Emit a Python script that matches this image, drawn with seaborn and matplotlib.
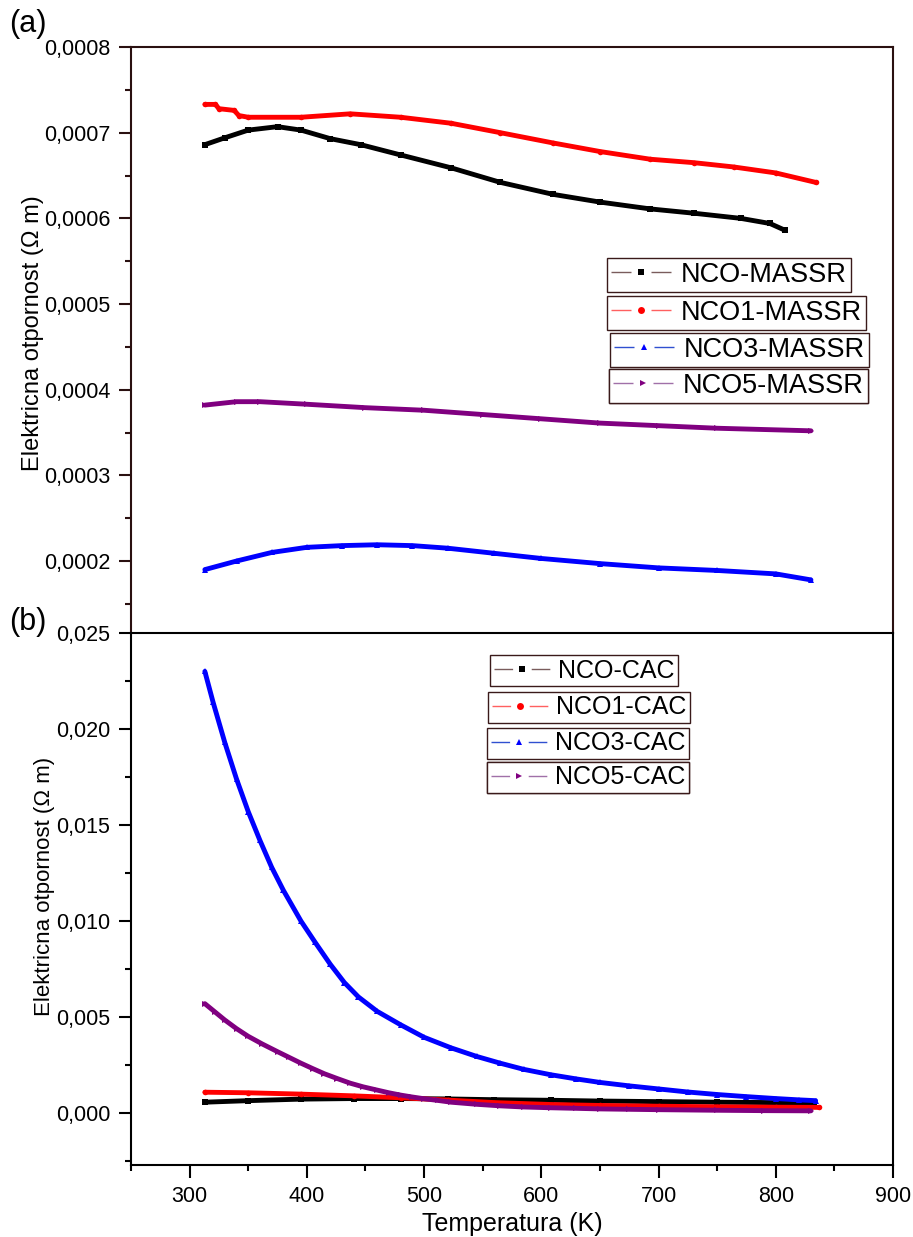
import numpy as np
import pandas as pd
import matplotlib
matplotlib.use("Agg")
import matplotlib.pyplot as plt
from matplotlib.lines import Line2D
from matplotlib.ticker import MultipleLocator, FuncFormatter
import seaborn as sns

# =============================
# Podaci - (a) MASSR
# =============================
t_nco_massr = [313, 330, 350, 375, 395, 420, 446, 480, 523, 565, 610, 650, 693, 730, 770, 795, 808]
r_nco_massr = [6.86e-4, 6.94e-4, 7.03e-4, 7.07e-4, 7.03e-4, 6.93e-4, 6.86e-4, 6.74e-4, 6.59e-4,
               6.42e-4, 6.28e-4, 6.19e-4, 6.11e-4, 6.06e-4, 6.00e-4, 5.94e-4, 5.86e-4]

t_nco1_massr = [313, 322, 325, 338, 342, 350, 395, 437, 480, 523, 565, 610, 650, 693, 730, 764, 800, 834]
r_nco1_massr = [7.33e-4, 7.33e-4, 7.28e-4, 7.26e-4, 7.20e-4, 7.18e-4, 7.18e-4, 7.22e-4, 7.18e-4,
                7.11e-4, 7.00e-4, 6.88e-4, 6.78e-4, 6.69e-4, 6.65e-4, 6.60e-4, 6.53e-4, 6.42e-4]

t_nco3_massr = [313, 340, 370, 400, 430, 460, 490, 520, 560, 600, 650, 700, 750, 800, 830]
r_nco3_massr = [1.90e-4, 2.00e-4, 2.10e-4, 2.16e-4, 2.18e-4, 2.19e-4, 2.18e-4, 2.15e-4, 2.09e-4,
                2.03e-4, 1.97e-4, 1.92e-4, 1.89e-4, 1.85e-4, 1.78e-4]

t_nco5_massr = [313, 340, 360, 400, 450, 500, 550, 600, 650, 700, 750, 830]
r_nco5_massr = [3.82e-4, 3.86e-4, 3.86e-4, 3.83e-4, 3.79e-4, 3.76e-4, 3.71e-4, 3.66e-4, 3.61e-4,
                3.58e-4, 3.55e-4, 3.52e-4]

# =============================
# Podaci - (b) CAC
# =============================
t_nco_cac = [313, 350, 395, 440, 480, 520, 560, 608, 650, 700, 750, 800, 833]
r_nco_cac = [0.57e-3, 0.65e-3, 0.73e-3, 0.76e-3, 0.76e-3, 0.74e-3, 0.70e-3, 0.67e-3, 0.63e-3,
             0.60e-3, 0.57e-3, 0.55e-3, 0.53e-3]

t_nco1_cac = [313, 350, 395, 440, 480, 520, 560, 608, 650, 700, 750, 800, 837]
r_nco1_cac = [1.09e-3, 1.06e-3, 0.99e-3, 0.90e-3, 0.80e-3, 0.68e-3, 0.55e-3, 0.45e-3, 0.40e-3,
              0.36e-3, 0.33e-3, 0.31e-3, 0.30e-3]

t_nco3_cac = [313, 320, 330, 340, 350, 360, 370, 380, 395, 407, 420, 432, 444, 460, 480, 500,
              523, 545, 565, 585, 608, 630, 650, 675, 700, 725, 750, 775, 800, 820, 834]
r_nco3_cac = [23.0e-3, 21.4e-3, 19.3e-3, 17.4e-3, 15.7e-3, 14.2e-3, 12.8e-3, 11.6e-3, 10.0e-3,
              8.9e-3, 7.75e-3, 6.8e-3, 6.05e-3, 5.3e-3, 4.6e-3, 3.95e-3, 3.4e-3, 2.95e-3, 2.6e-3,
              2.28e-3, 2.0e-3, 1.78e-3, 1.6e-3, 1.42e-3, 1.26e-3, 1.1e-3, 0.97e-3, 0.86e-3,
              0.76e-3, 0.69e-3, 0.65e-3]

t_nco5_cac = [313, 322, 330, 340, 350, 362, 375, 385, 395, 405, 415, 426, 437, 448, 460, 470,
              480, 490, 500, 512, 523, 545, 565, 585, 608, 630, 650, 675, 700, 750, 790, 830]
r_nco5_cac = [5.7e-3, 5.25e-3, 4.85e-3, 4.4e-3, 4.0e-3, 3.6e-3, 3.2e-3, 2.9e-3, 2.6e-3, 2.32e-3,
              2.05e-3, 1.8e-3, 1.56e-3, 1.37e-3, 1.2e-3, 1.06e-3, 0.94e-3, 0.84e-3, 0.75e-3,
              0.66e-3, 0.57e-3, 0.46e-3, 0.38e-3, 0.32e-3, 0.28e-3, 0.25e-3, 0.22e-3, 0.2e-3,
              0.18e-3, 0.15e-3, 0.13e-3, 0.12e-3]

labels_a = ["NCO-MASSR", "NCO1-MASSR", "NCO3-MASSR", "NCO5-MASSR"]
labels_b = ["NCO-CAC", "NCO1-CAC", "NCO3-CAC", "NCO5-CAC"]

colors = ["#000000", "#ff0000", "#0000ff", "#800080"]
handle_colors = ["#7a5c5c", "#ff6060", "#3050d0", "#a070a8"]
markers = ["s", "o", "^", ">"]

sns.set_style("ticks")
plt.rcParams["font.family"] = ["Liberation Sans", "DejaVu Sans"]
plt.rcParams["text.color"] = "black"
plt.rcParams["axes.labelcolor"] = "black"
plt.rcParams["xtick.color"] = "black"
plt.rcParams["ytick.color"] = "black"

fig = plt.figure(figsize=(9.13, 12.37), dpi=100)
W, H = 913, 1237

ax_a = fig.add_axes([131 / W, 1 - 633 / H, 762 / W, 586 / H])
ax_b = fig.add_axes([131 / W, 1 - 1165 / H, 762 / W, 532 / H])

series_a = [(t_nco_massr, r_nco_massr), (t_nco1_massr, r_nco1_massr),
            (t_nco3_massr, r_nco3_massr), (t_nco5_massr, r_nco5_massr)]
series_b = [(t_nco_cac, r_nco_cac), (t_nco1_cac, r_nco1_cac),
            (t_nco3_cac, r_nco3_cac), (t_nco5_cac, r_nco5_cac)]

for ax, series in [(ax_a, series_a), (ax_b, series_b)]:
    for (t, r), c, m in zip(series, colors, markers):
        df = pd.DataFrame({"T": t, "R": r})
        sns.lineplot(data=df, x="T", y="R", ax=ax, color=c, marker=m, markersize=4,
                     markeredgewidth=0, linewidth=3.5, legend=False)

axis_col_a = "#2a1010"

# ---- (a)
ax_a.set_xlim(250, 900)
ax_a.set_ylim(0.000116, 0.0008)
ax_a.yaxis.set_major_locator(MultipleLocator(0.0001))
ax_a.yaxis.set_minor_locator(MultipleLocator(0.00005))
ax_a.yaxis.set_major_formatter(FuncFormatter(lambda v, p: f"{v:.4f}".replace(".", ",")))
ax_a.set_xticks([])
ax_a.spines["bottom"].set_visible(False)
for s in ["left", "top", "right"]:
    ax_a.spines[s].set_linewidth(1.5)
    ax_a.spines[s].set_color(axis_col_a)
ax_a.tick_params(axis="y", which="major", length=9, width=1.5, labelsize=15.5, color=axis_col_a, pad=6)
ax_a.tick_params(axis="y", which="minor", length=4.5, width=1.5, color=axis_col_a)
ax_a.set_xlabel("")
ax_a.set_ylabel("Elektricna otpornost (Ω m)", fontsize=17)
ax_a.yaxis.set_label_coords(-0.114, 0.512)

# ---- (b)
ax_b.set_xlim(250, 900)
ax_b.set_ylim(-0.0027, 0.025)
ax_b.yaxis.set_major_locator(MultipleLocator(0.005))
ax_b.yaxis.set_minor_locator(MultipleLocator(0.0025))
ax_b.yaxis.set_major_formatter(FuncFormatter(lambda v, p: f"{v:.3f}".replace(".", ",")))
ax_b.xaxis.set_major_locator(MultipleLocator(100))
ax_b.xaxis.set_minor_locator(MultipleLocator(50))
for s in ["left", "top", "right", "bottom"]:
    ax_b.spines[s].set_linewidth(1.5)
    ax_b.spines[s].set_color("black")
ax_b.tick_params(which="major", length=9, width=1.5, labelsize=15.5, pad=6)
ax_b.tick_params(which="minor", length=4.5, width=1.5)
ax_b.set_xlabel("Temperatura (K)", fontsize=18, labelpad=4)
ax_b.set_ylabel("Elektricna otpornost (Ω m)", fontsize=16)
ax_b.yaxis.set_label_coords(-0.1, 0.523)

# =============================
# Legende - svaka stavka u svom okviru
# =============================
def box_legend(ax, label, c, hc, m, x, y, fs, dash):
    h = Line2D([], [], color=hc, lw=1, linestyle=(0, (dash, dash)), marker=m,
               markerfacecolor=c, markeredgewidth=0, markersize=5)
    leg = ax.legend([h], [label], loc="upper left", bbox_to_anchor=(x / W, 1 - y / H),
                    bbox_transform=fig.transFigure, borderaxespad=0, fontsize=fs,
                    numpoints=1, handlelength=2.24, handletextpad=0.35, borderpad=0.14,
                    fancybox=False, framealpha=1)
    leg.get_frame().set_edgecolor("#3a1a1a")
    leg.get_frame().set_linewidth(1.0)
    ax.add_artist(leg)

pos_a = [(607, 258), (607, 296), (610, 333), (609, 369)]
pos_b = [(490, 655), (488, 692), (487, 728), (487, 762)]
for lab, c, hc, m, (x, y) in zip(labels_a, colors, handle_colors, markers, pos_a):
    box_legend(ax_a, lab, c, hc, m, x, y, 19.5, 14.4)
for lab, c, hc, m, (x, y) in zip(labels_b, colors, handle_colors, markers, pos_b):
    box_legend(ax_b, lab, c, hc, m, x, y, 18, 13.4)

fig.text(28 / W, 1 - 24 / H, "(a)", fontsize=22, ha="center", va="center")
fig.text(28 / W, 1 - 622 / H, "(b)", fontsize=22, ha="center", va="center")

fig.savefig("out.png", dpi=100)
